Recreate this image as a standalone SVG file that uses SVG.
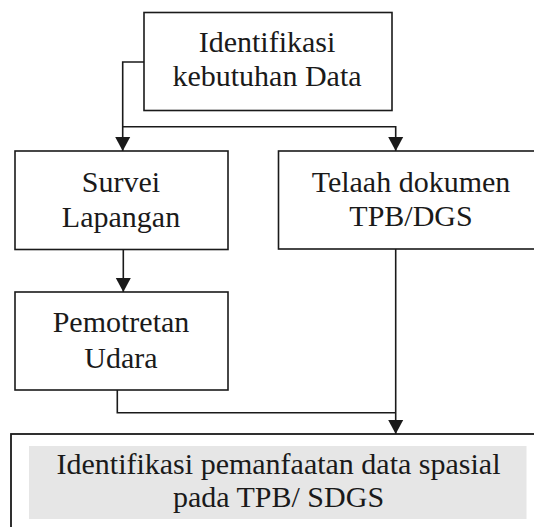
<svg xmlns="http://www.w3.org/2000/svg" width="534" height="527" viewBox="0 0 534 527">
<style>
.box{fill:#fff;stroke:#1a1a1a;stroke-width:1.6}
.lbl{font-family:"Liberation Serif","DejaVu Serif",serif;font-size:30px;fill:#1a1a1a;text-anchor:middle}
.con{fill:none;stroke:#1a1a1a;stroke-width:1.6}
</style>
<defs>
<marker id="arr" markerWidth="16" markerHeight="16" refX="14" refY="7.5" orient="auto" markerUnits="userSpaceOnUse" overflow="visible">
<path d="M0,0 L14,7.5 L0,15 Z" fill="#1a1a1a"/>
</marker>
</defs>
<rect width="534" height="527" fill="#fff"/>
<g id="n-identifikasi">
<rect class="box" x="144" y="12.5" width="248" height="98"/>
<text class="lbl" x="267" y="52">Identifikasi</text>
<text class="lbl" x="267" y="86">kebutuhan Data</text>
</g>
<g id="n-survei">
<rect class="box" x="15" y="151" width="213" height="98.5"/>
<text class="lbl" x="121" y="192">Survei</text>
<text class="lbl" x="121" y="226.5">Lapangan</text>
</g>
<g id="n-telaah">
<rect class="box" x="278.5" y="151" width="270" height="98"/>
<text class="lbl" x="411" y="192">Telaah dokumen</text>
<text class="lbl" x="411" y="226">TPB/DGS</text>
</g>
<g id="n-pemotretan">
<rect class="box" x="15" y="292" width="213" height="98"/>
<text class="lbl" x="121" y="332">Pemotretan</text>
<text class="lbl" x="121" y="367.5">Udara</text>
</g>
<g id="n-hasil">
<rect x="11" y="434" width="540" height="110" fill="#fff" stroke="#1a1a1a" stroke-width="1.8"/>
<rect x="29" y="446" width="497.5" height="73" fill="#e6e6e6"/>
<text class="lbl" x="278.5" y="474">Identifikasi pemanfaatan data spasial</text>
<text class="lbl" x="278.5" y="506.5">pada TPB/ SDGS</text>
</g>
<g id="connectors">
<path class="con" d="M144,62 H122.7 V151" marker-end="url(#arr)"/>
<path class="con" d="M122.7,126.7 H395.7 V151" marker-end="url(#arr)"/>
<path class="con" d="M123.3,249.5 V292" marker-end="url(#arr)"/>
<path class="con" d="M395.7,249 V434" marker-end="url(#arr)"/>
<path class="con" d="M117.3,390 V412.7 H395.7"/>
</g>
</svg>
